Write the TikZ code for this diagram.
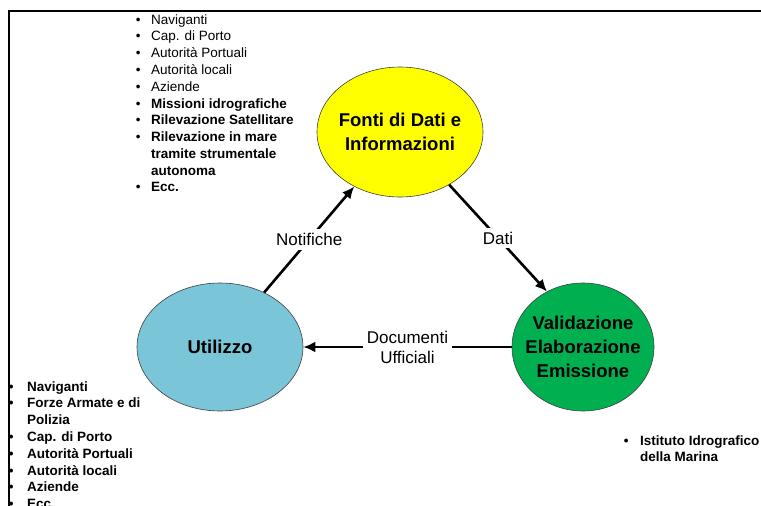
\documentclass[tikz,border=0pt]{standalone}
\usepackage{fontspec}
\setmainfont{Liberation Sans}
\usetikzlibrary{shapes.geometric}
\usetikzlibrary{arrows.meta}

\definecolor{fontiyellow}{RGB}{255,255,0}
\definecolor{utilblue}{RGB}{122,197,216}
\definecolor{validgreen}{RGB}{0,176,80}

\tikzset{
  blob/.style={draw=black!75, line width=0.6pt, shape=ellipse, inner sep=0pt},
  flow/.style={line width=2.6pt, -{Latex[length=12pt,width=11pt]}},
  flowlabel/.style={fill=white, inner sep=4pt, align=center, font=\fontsize{17}{20}\selectfont},
  bigtext/.style={align=center, font=\bfseries\fontsize{18.5}{24}\selectfont},
  listtext/.style={inner sep=0pt, anchor=base west, font=\fontsize{13.5}{16.8}\selectfont}
}

\begin{document}
\begin{tikzpicture}[x=1pt,y=-1pt]
	\useasboundingbox (0,0) rectangle (761,506);
	% frame
	\draw[line width=2.2pt] (9,506) -- (9,11) -- (761,11);
	% the three stages
	\draw (400,132) node(fonti) [blob, fill=fontiyellow, minimum width=166pt, minimum height=130pt,
		label={[bigtext]center:Fonti di Dati e\\Informazioni}] {};
	\draw (220,347) node(utilizzo) [blob, fill=utilblue, minimum width=166pt, minimum height=128pt,
		label={[bigtext]center:Utilizzo}] {};
	\draw (583,347) node(valid) [blob, fill=validgreen, minimum width=142pt, minimum height=128pt,
		label={[bigtext]center:Validazione\\Elaborazione\\Emissione}] {};
	% flows
	\draw[flow] (utilizzo.51) -- node[flowlabel] {Notifiche} (fonti.230);
	\draw[flow] (fonti.313) -- node[flowlabel] {Dati} (valid.123);
	\draw[flow] (valid.west) -- node[flowlabel] {Documenti\\Ufficiali} (utilizzo.east);
	% lists
	\node (fontilist) [listtext] at (135.6,24) {\begin{tabular}[t]{@{}l@{\hspace{10.5pt}}l@{}}
		\textbullet & Naviganti\\
		\textbullet & Cap. di Porto\\
		\textbullet & Autorità Portuali\\
		\textbullet & Autorità locali\\
		\textbullet & Aziende\\
		\textbullet & \textbf{Missioni idrografiche}\\
		\textbullet & \textbf{Rilevazione Satellitare}\\
		\textbullet & \textbf{Rilevazione in mare}\\
		& \textbf{tramite strumentale}\\
		& \textbf{autonoma}\\
		\textbullet & \textbf{Ecc.}
	\end{tabular}};
	\node (utilizzolist) [listtext] at (8.6,391) {\bfseries\begin{tabular}[t]{@{}l@{\hspace{13.5pt}}l@{}}
		\textbullet & Naviganti\\
		\textbullet & Forze Armate e di\\
		& Polizia\\
		\textbullet & Cap. di Porto\\
		\textbullet & Autorità Portuali\\
		\textbullet & Autorità locali\\
		\textbullet & Aziende\\
		\textbullet & Ecc.
	\end{tabular}};
	\node (validlist) [listtext] at (623.6,445) {\bfseries\begin{tabular}[t]{@{}l@{\hspace{11.5pt}}l@{}}
		\textbullet & Istituto Idrografico\\
		& della Marina
	\end{tabular}};
\end{tikzpicture}
\end{document}
